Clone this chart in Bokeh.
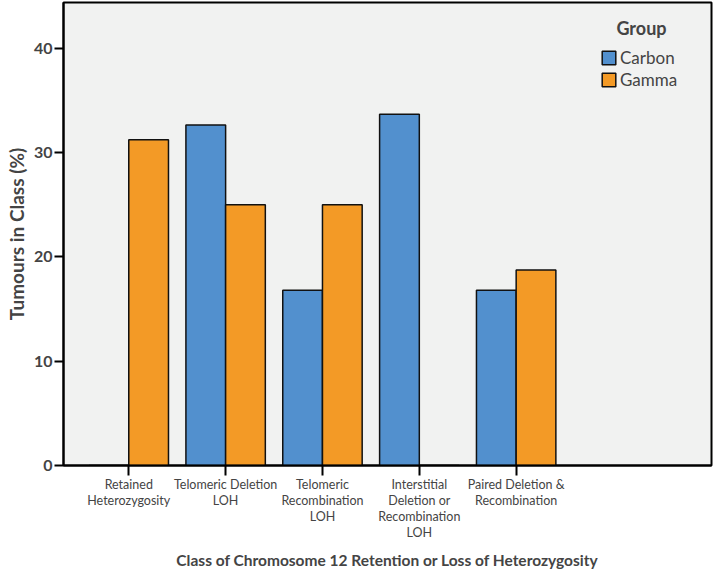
from bokeh.plotting import figure
from bokeh.models import ColumnDataSource, FixedTicker, Range1d, Label
from bokeh.embed import file_html
from bokeh.resources import INLINE

categories = ["Retained\nHeterozygosity",
              "Telomeric Deletion\nLOH",
              "Telomeric\nRecombination\nLOH",
              "Interstitial\nDeletion or\nRecombination\nLOH",
              "Paired Deletion &\nRecombination"]
groups = ["Carbon", "Gamma"]
carbon = [0.0, 32.65, 16.8, 33.7, 16.8]
gamma = [31.25, 25.0, 25.0, 0.0, 18.75]
y_ticks = [0, 10, 20, 30, 40]
colors = {"Carbon": "#5290ce", "Gamma": "#f39a26"}

FONT = "Lato"
idx = list(range(len(categories)))
bw = 0.41

p = figure(width=715, height=573, output_backend="svg", toolbar_location=None,
           x_range=Range1d(-0.674, 6.017), y_range=Range1d(0, 44.41),
           min_border_left=63, min_border_right=4, min_border_top=2, min_border_bottom=108)

src_c = ColumnDataSource(dict(x=[i - bw / 2 for i in idx], top=carbon))
src_g = ColumnDataSource(dict(x=[i + bw / 2 for i in idx], top=gamma))
p.vbar(x="x", top="top", width=bw, source=src_c, fill_color=colors["Carbon"],
       line_color="#111111", line_width=1.5, legend_label=groups[0])
p.vbar(x="x", top="top", width=bw, source=src_g, fill_color=colors["Gamma"],
       line_color="#111111", line_width=1.5, legend_label=groups[1])

p.background_fill_color = "#f1f2f1"
p.border_fill_color = "white"
p.outline_line_color = "black"
p.outline_line_width = 2
p.xgrid.visible = False
p.ygrid.visible = False

xa = p.xaxis[0]
xa.ticker = FixedTicker(ticks=idx)
xa.major_label_overrides = {i: c for i, c in zip(idx, categories)}
xa.major_tick_out = 10
xa.major_tick_in = 0
xa.minor_tick_line_color = None
xa.major_tick_line_width = 2
xa.axis_line_width = 2
xa.major_label_text_font = FONT
xa.major_label_text_font_size = "12.5px"
xa.major_label_text_line_height = 1.08
xa.major_label_standoff = 1
xa.axis_label = "Class of Chromosome 12 Retention or Loss of Heterozygosity"
xa.axis_label_text_font = FONT
xa.axis_label_text_font_style = "bold"
xa.axis_label_text_font_size = "15.5px"
xa.axis_label_standoff = 8

ya = p.yaxis[0]
ya.ticker = FixedTicker(ticks=y_ticks)
ya.major_tick_out = 9
ya.major_tick_in = 0
ya.minor_tick_line_color = None
ya.major_tick_line_width = 2
ya.axis_line_width = 2
ya.major_label_text_font = FONT
ya.major_label_text_font_style = "bold"
ya.major_label_text_font_size = "16px"
ya.major_label_standoff = 2
ya.axis_label = "Tumours in Class (%)"
ya.axis_label_text_font = FONT
ya.axis_label_text_font_style = "bold"
ya.axis_label_text_font_size = "19px"
ya.axis_label_standoff = 3

leg = p.legend[0]
leg.location = (537, 375)
leg.glyph_width = 17
leg.glyph_height = 17
leg.label_height = 17
leg.spacing = 1
leg.padding = 0
leg.margin = 0
leg.label_standoff = 3
leg.label_text_font = FONT
leg.label_text_font_size = "17px"
leg.background_fill_alpha = 0
leg.border_line_alpha = 0

p.add_layout(Label(x=5.294, y=41.97, text="Group", text_align="center",
                   text_baseline="middle", text_font=FONT, text_font_style="bold",
                   text_font_size="18px"))

open("out.html", "w").write(file_html(p, INLINE))
